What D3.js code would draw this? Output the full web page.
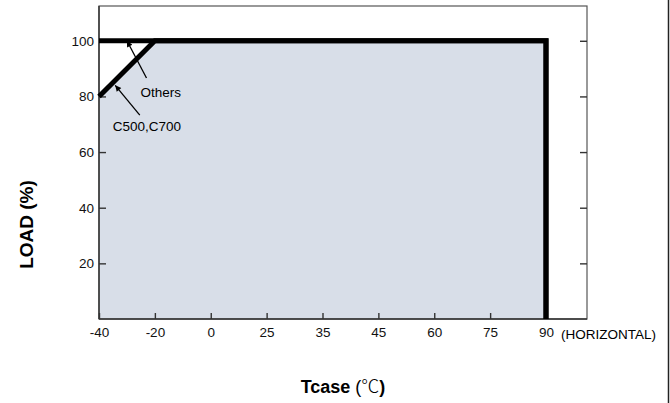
<!DOCTYPE html>
<html>
<head>
<meta charset="utf-8">
<script src="https://cdn.jsdelivr.net/npm/d3@7"></script>
<style>
  body { margin: 0; background: #fff; }
  svg { display: block; font-family: "Liberation Sans", Arial, sans-serif; }
  .axis path, .axis line { stroke: #333; stroke-width: 1.4; }
  .axis text { font-size: 13.5px; fill: #111; }
</style>
</head>
<body>
<div id="chart"></div>
<script>
// temperature ticks (categorical, evenly spaced) and load ticks
const tempLabels = ["-40", "-20", "0", "25", "35", "45", "60", "75", "90"];
const loadTicks = [20, 40, 60, 80, 100];

// derating curves
const othersTemp = ["-40", "90", "90"];
const othersLoad = [100, 100, 0];
const c500Temp = ["-40", "-20", "90", "90"];
const c500Load = [80, 100, 100, 0];

// annotations: label, arrow tip (temp index, load), arrow tail (temp index, load)
const noteText = ["Others", "C500,C700"];
const noteTip = [[0.5, 100], [0.29, 84]];
const noteTail = [[0.85, 86.6], [0.73, 73.3]];

const width = 670, height = 403;
const plot = {left: 99, top: 6, right: 587, bottom: 319};

const svg = d3.select("#chart").append("svg")
  .attr("width", width)
  .attr("height", height);

const x = d3.scalePoint().domain(tempLabels).range([plot.left, 546]);
const xi = i => x.range()[0] + i * x.step();
const y = d3.scaleLinear().domain([0, 112.5]).range([plot.bottom, plot.top]);

svg.append("defs").append("marker")
  .attr("id", "arrow")
  .attr("viewBox", "0 0 10 10")
  .attr("refX", 10).attr("refY", 5)
  .attr("markerWidth", 8).attr("markerHeight", 6)
  .attr("markerUnits", "userSpaceOnUse")
  .attr("orient", "auto")
  .append("path")
  .attr("d", "M0,0 L10,5 L0,10 z")
  .attr("fill", "#000");

// shaded operating area
const c500 = c500Temp.map((t, i) => [x(t), y(c500Load[i])]);
const area = d3.area().x(d => d[0]).y0(y(0)).y1(d => d[1]);
svg.append("path")
  .attr("d", area(c500))
  .attr("fill", "#d8dee8");

// frame
svg.append("rect")
  .attr("x", plot.left).attr("y", plot.top)
  .attr("width", plot.right - plot.left).attr("height", plot.bottom - plot.top)
  .attr("fill", "none")
  .attr("stroke", "#555")
  .attr("stroke-width", 1.2);

// axes, ticks point inward
svg.append("g").attr("class", "axis")
  .attr("transform", `translate(${plot.left},0)`)
  .call(d3.axisLeft(y).tickValues(loadTicks).tickSize(-7).tickPadding(5))
  .attr("font-family", null)
  .call(g => g.select(".domain").remove());

svg.append("g").attr("class", "axis")
  .attr("transform", `translate(${plot.right},0)`)
  .call(d3.axisRight(y).tickValues(loadTicks).tickSize(-7).tickFormat(""))
  .call(g => g.select(".domain").remove());

svg.append("g").attr("class", "axis")
  .attr("transform", `translate(0,${plot.bottom})`)
  .call(d3.axisBottom(x).tickSize(-6).tickPadding(8.5))
  .attr("font-family", null)
  .call(g => g.select(".domain").remove());

svg.append("line")
  .attr("x1", plot.left).attr("x2", plot.left)
  .attr("y1", plot.top).attr("y2", plot.bottom)
  .attr("stroke", "#333").attr("stroke-width", 1.4);
svg.append("line")
  .attr("x1", plot.left).attr("x2", plot.right)
  .attr("y1", plot.bottom).attr("y2", plot.bottom)
  .attr("stroke", "#333").attr("stroke-width", 1.4);

// curves
const line = d3.line();
svg.append("path")
  .attr("d", line(othersTemp.map((t, i) => [x(t), y(othersLoad[i])])))
  .attr("fill", "none").attr("stroke", "#000")
  .attr("stroke-width", 5).attr("stroke-linejoin", "miter");
svg.append("path")
  .attr("d", line(c500))
  .attr("fill", "none").attr("stroke", "#000")
  .attr("stroke-width", 5).attr("stroke-linejoin", "miter");

// annotations
noteText.forEach((t, i) => {
  svg.append("line")
    .attr("x1", xi(noteTail[i][0])).attr("y1", y(noteTail[i][1]))
    .attr("x2", xi(noteTip[i][0])).attr("y2", y(noteTip[i][1]))
    .attr("stroke", "#000").attr("stroke-width", 1.3)
    .attr("marker-end", "url(#arrow)");
});
svg.append("text")
  .attr("x", xi(noteTail[0][0]) - 6).attr("y", y(noteTail[0][1]) + 19)
  .attr("font-size", 13.5).text(noteText[0]);
svg.append("text")
  .attr("x", xi(noteTail[1][0]) - 27).attr("y", y(noteTail[1][1]) + 16)
  .attr("font-size", 13.5).text(noteText[1]);

svg.append("text")
  .attr("x", x("90") + 15).attr("y", plot.bottom + 20)
  .attr("font-size", 13.5).text("(HORIZONTAL)");

// axis titles
svg.append("text")
  .attr("transform", `translate(33,${(plot.top + plot.bottom) / 2 + 62}) rotate(-90)`)
  .attr("text-anchor", "middle")
  .attr("font-size", 19).attr("font-weight", "bold")
  .text("LOAD (%)");

const xt = svg.append("text")
  .attr("x", (plot.left + plot.right) / 2).attr("y", 393)
  .attr("text-anchor", "middle")
  .attr("font-size", 18);
xt.append("tspan").attr("font-weight", "bold").text("Tcase");
xt.append("tspan").attr("font-weight", "300").text(" (");
xt.append("tspan").attr("font-family", "Noto Sans CJK SC").attr("font-weight", "300").text("℃");
xt.append("tspan").attr("font-weight", "bold").text(")");

// right border of the picture
svg.append("line")
  .attr("x1", 668.5).attr("x2", 668.5)
  .attr("y1", 0).attr("y2", height)
  .attr("stroke", "#222").attr("stroke-width", 1.5);
</script>
</body>
</html>
